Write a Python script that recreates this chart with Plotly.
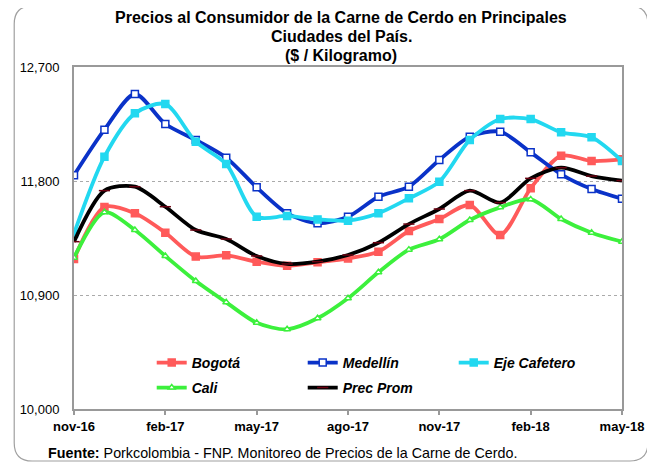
import plotly.graph_objects as go

months = ["nov-16", "dic-16", "ene-17", "feb-17", "mar-17", "abr-17", "may-17",
          "jun-17", "jul-17", "ago-17", "sep-17", "oct-17", "nov-17", "dic-17",
          "ene-18", "feb-18", "mar-18", "abr-18", "may-18"]
tick_months = ["nov-16", "feb-17", "may-17", "ago-17", "nov-17", "feb-18", "may-18"]

bogota = [11184, 11595, 11545, 11392, 11203, 11213, 11163, 11131, 11158, 11189,
          11242, 11405, 11500, 11610, 11374, 11742, 12000, 11958, 11971]
medellin = [11845, 12205, 12487, 12250, 12124, 11984, 11750, 11545, 11466, 11518,
            11676, 11755, 11966, 12150, 12189, 12026, 11853, 11737, 11660]
eje_cafetero = [11384, 11992, 12334, 12408, 12110, 11934, 11518, 11524, 11497, 11487,
                11545, 11663, 11795, 12124, 12289, 12289, 12184, 12145, 11958]
cali = [11195, 11553, 11413, 11208, 11010, 10842, 10681, 10629, 10716, 10874,
        11079, 11258, 11340, 11492, 11592, 11655, 11500, 11392, 11321]
prec_prom = [11321, 11724, 11755, 11597, 11413, 11342, 11208, 11145, 11163, 11216,
             11313, 11460, 11579, 11724, 11629, 11821, 11905, 11839, 11803]

y_ticks = [10000, 10900, 11800, 12700]

W, H = 655, 465
OFF = 8  # page body offset
# plot area in page pixels
L, R, T, B = 72, 622, 67, 409

FONT = "Liberation Sans, Arial, sans-serif"

fig = go.Figure()

def add(name, y, color, symbol, mfill, mline, legend, msize=7):
    fig.add_trace(go.Scatter(
        x=months, y=y, name=name, mode="lines+markers",
        line=dict(color=color, width=3.8, shape="spline", smoothing=0.8),
        marker=dict(symbol=symbol, size=msize, color=mfill,
                    line=dict(color=mline, width=1.5)),
        legend=legend,
    ))

add("Bogotá", bogota, "#FF5A5A", "square", "#FF5A5A", "#FF5A5A", "legend")
add("Medellín", medellin, "#0A32C8", "square", "white", "#0A32C8", "legend")
add("Eje Cafetero", eje_cafetero, "#22D8F0", "square", "#22D8F0", "#22D8F0", "legend")
add("Cali", cali, "#3CF03C", "triangle-up", "white", "#3CF03C", "legend2", msize=6)
add("Prec Prom", prec_prom, "#000000", "line-ew", "#6a0010", "#6a0010", "legend2", msize=8)

def px_x(p):
    return (p - L) / (R - L)

def px_y(p):
    return (B - p) / (B - T)

legend_common = dict(
    orientation="h", xanchor="left", yanchor="middle",
    entrywidth=106, entrywidthmode="pixels",
    font=dict(family=FONT, size=14, color="black", weight="bold", style="italic"),
    bgcolor="rgba(0,0,0,0)", itemwidth=30, tracegroupgap=0,
)

# outer rounded border
x0, x1, y0, y1, r = 12, 648, 6, 461, 18
path = (
    f"M {px_x(x0 + r)},{px_y(y0)} L {px_x(x1 - r)},{px_y(y0)} "
    f"Q {px_x(x1)},{px_y(y0)} {px_x(x1)},{px_y(y0 + r)} "
    f"L {px_x(x1)},{px_y(y1 - r)} Q {px_x(x1)},{px_y(y1)} {px_x(x1 - r)},{px_y(y1)} "
    f"L {px_x(x0 + r)},{px_y(y1)} Q {px_x(x0)},{px_y(y1)} {px_x(x0)},{px_y(y1 - r)} "
    f"L {px_x(x0)},{px_y(y0 + r)} Q {px_x(x0)},{px_y(y0)} {px_x(x0 + r)},{px_y(y0)} Z"
)

def ann(text, x, y, size, xanchor="center"):
    return dict(text=text, x=px_x(x), y=px_y(y), xref="paper", yref="paper",
                xanchor=xanchor, yanchor="middle", showarrow=False,
                font=dict(size=size, family=FONT, color="black"))

fig.update_layout(
    width=W, height=H,
    margin=dict(l=L - OFF, r=W - (R - OFF), t=T - OFF, b=H - (B - OFF)),
    paper_bgcolor="white", plot_bgcolor="white",
    font=dict(family=FONT, color="black"),
    showlegend=True,
    legend=dict(x=px_x(150), y=px_y(363), **legend_common),
    legend2=dict(x=px_x(150), y=px_y(388), **legend_common),
    shapes=[dict(type="path", path=path, xref="paper", yref="paper",
                 line=dict(color="#A0A0A0", width=1.2), layer="below")],
    annotations=[
        ann("<b>Precios al Consumidor de la Carne de Cerdo en Principales</b>", 340, 18, 16),
        ann("<b>Ciudades del País.</b>", 340, 37, 16),
        ann("<b>($ / Kilogramo)</b>", 340, 56, 16),
        ann("<b>Fuente:</b> Porkcolombia - FNP. Monitoreo de Precios de la Carne de Cerdo.",
            44, 453, 14.3, xanchor="left"),
    ],
)

fig.update_xaxes(
    type="category", range=[0, len(months) - 1],
    tickmode="array", tickvals=tick_months, ticktext=tick_months,
    tickfont=dict(family=FONT, size=13, color="black", weight="bold"),
    ticks="outside", ticklen=4, tickcolor="#999999", tickwidth=1.5,
    showline=True, linecolor="#999999", linewidth=2, mirror=True,
    showgrid=False, zeroline=False,
)
fig.update_yaxes(
    range=[10000, 12700], tickmode="array", tickvals=y_ticks,
    tickformat=",d",
    tickfont=dict(family=FONT, size=13, color="black"),
    ticks="", ticklabelstandoff=10,
    showline=True, linecolor="#999999", linewidth=2, mirror=True,
    showgrid=True, gridcolor="#AAAAAA", gridwidth=1, griddash="dot",
    zeroline=False,
)

fig.write_html("out.html")
